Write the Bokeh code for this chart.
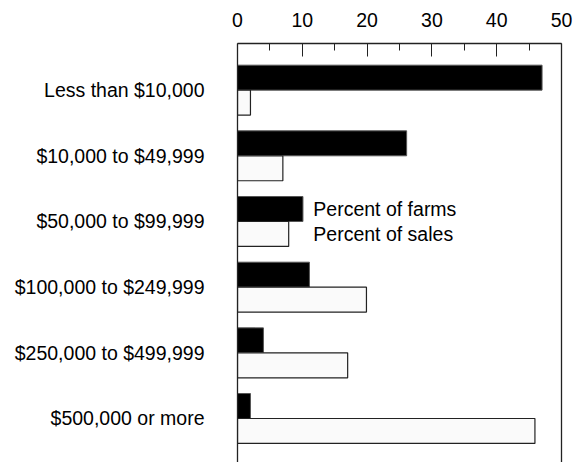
from bokeh.plotting import figure
from bokeh.models import Range1d, LinearAxis, FixedTicker, Label, ColumnDataSource
from bokeh.embed import file_html
from bokeh.resources import INLINE

categories = ["Less than $10,000", "$10,000 to $49,999", "$50,000 to $99,999",
              "$100,000 to $249,999", "$250,000 to $499,999", "$500,000 or more"]
pct_farms = [47.0, 26.1, 10.1, 11.1, 4.0, 2.0]
pct_sales = [2.0, 7.0, 7.9, 19.9, 17.0, 45.9]
x_ticks = [0, 10, 20, 30, 40, 50]
x_minor = [5, 15, 25, 35, 45]
series_names = ["Percent of farms", "Percent of sales"]

FONT = "Liberation Sans"
FS = "19.5px"
BAR_H = 0.38

idx = list(range(len(categories)))
src = ColumnDataSource(dict(
    idx=idx,
    y_farms=[i - BAR_H / 2 for i in idx],
    y_sales=[i + BAR_H / 2 for i in idx],
    farms=pct_farms,
    sales=pct_sales,
))

p = figure(width=575, height=462, output_backend="svg", toolbar_location=None,
           x_range=Range1d(0, 50), y_range=Range1d(5.67, -0.71),
           x_axis_location=None, y_axis_location=None,
           min_border_left=237, min_border_right=14, min_border_top=43, min_border_bottom=0)
p.outline_line_color = None
p.xgrid.visible = False
p.ygrid.visible = False
p.background_fill_color = "white"
p.border_fill_color = "white"

p.hbar(y="y_farms", right="farms", left=0, height=BAR_H, source=src,
       fill_color="black", line_color="#555555", line_width=1)
p.hbar(y="y_sales", right="sales", left=0, height=BAR_H, source=src,
       fill_color="#fafafa", line_color="#222222", line_width=1.2)

# top axis
top = LinearAxis(ticker=FixedTicker(ticks=x_ticks, minor_ticks=x_minor))
top.axis_line_color = "#222222"
top.axis_line_width = 1.3
top.major_tick_in = 13
top.major_tick_out = 0
top.minor_tick_in = 7
top.minor_tick_out = 0
top.major_tick_line_color = "#222222"
top.minor_tick_line_color = "#222222"
top.major_label_text_font = FONT
top.major_label_text_font_size = FS
top.major_label_text_color = "black"
top.major_label_standoff = 17
p.add_layout(top, "above")

# left axis with categories
left = LinearAxis(ticker=FixedTicker(ticks=idx))
left.major_label_overrides = {i: c for i, c in enumerate(categories)}
left.axis_line_color = "#222222"
left.axis_line_width = 1.3
left.major_tick_line_color = None
left.minor_tick_line_color = None
left.major_tick_in = 0
left.major_tick_out = 0
left.major_label_standoff = 33
left.major_label_text_font = FONT
left.major_label_text_font_size = FS
left.major_label_text_color = "black"
p.add_layout(left, "left")

# right frame line
right = LinearAxis(ticker=FixedTicker(ticks=[]))
right.axis_line_color = "#222222"
right.axis_line_width = 1.3
right.major_tick_line_color = None
right.minor_tick_line_color = None
right.major_label_text_font_size = "0px"
p.add_layout(right, "right")

# legend-like text labels next to the $50,000 group
for k, name in enumerate(series_names):
    p.add_layout(Label(x=11.7, y=2 + (k - 0.5) * BAR_H, text=name,
                       text_font=FONT, text_font_size=FS, text_color="black",
                       text_baseline="middle", text_align="left"))

open("out.html", "w").write(file_html(p, INLINE))
